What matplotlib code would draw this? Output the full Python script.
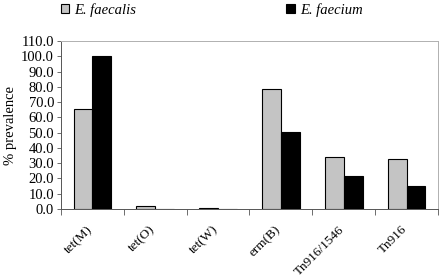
import matplotlib.pyplot as plt
import matplotlib.transforms as mtransforms
import numpy as np

plt.rcParams['font.family'] = ['Liberation Serif', 'DejaVu Serif']

genes = ['tet(M)', 'tet(O)', 'tet(W)', 'erm(B)', 'Tn916/1546', 'Tn916']
faecalis = [65.8, 2.0, 0.6, 78.3, 33.9, 32.6]
faecium = [100.0, 0.0, 0.3, 50.1, 21.8, 15.1]

fig = plt.figure(figsize=(4.43, 2.79), dpi=100)
ax = fig.add_axes([0.1377, 0.2509, 0.851, 0.6021])

x = np.arange(len(genes))
w = 0.3
b1 = ax.bar(x - w / 2, faecalis, w, color='#c4c4c4', edgecolor='black', linewidth=0.8)
b2 = ax.bar(x + w / 2, faecium, w, color='black', edgecolor='black', linewidth=0.8)

ax.set_xlim(-0.5, len(genes) - 0.5)
ax.set_ylim(0, 110)
ax.set_yticks(np.arange(0, 111, 10))
ax.set_yticklabels([f'{v:.1f}' for v in np.arange(0, 111, 10)], fontsize=10.5)
ax.set_xticks(x)
ax.set_xticklabels(genes, rotation=45, ha='right', rotation_mode='anchor', fontsize=9.5)
ax.tick_params(axis='x', length=0, pad=12)
offset = mtransforms.ScaledTranslation(-6 / 100, 2 / 100, fig.dpi_scale_trans)
for lab in ax.get_xticklabels():
    lab.set_transform(lab.get_transform() + offset)
ax.set_xticks(np.arange(-0.5, len(genes)), minor=True)
ax.tick_params(axis='x', which='minor', length=4, direction='out', width=0.6, color='#555555')
ax.tick_params(axis='y', length=3, direction='out', width=0.6, color='#555555', pad=2)
ax.set_ylabel('% prevalence', fontsize=10.5, labelpad=3)

for side in ['top', 'right']:
    ax.spines[side].set_color('#b0b0b0')
    ax.spines[side].set_linewidth(0.7)
for side in ['left', 'bottom']:
    ax.spines[side].set_color('#555555')
    ax.spines[side].set_linewidth(0.7)

leg_kw = dict(loc='upper left', frameon=False, handlelength=0.6, handleheight=0.6,
              handletextpad=0.35, borderpad=0, borderaxespad=0,
              prop={'style': 'italic', 'size': 10.5})
leg1 = ax.legend([b1], ['E. faecalis'], bbox_to_anchor=(0.137, 0.99),
                 bbox_transform=fig.transFigure, **leg_kw)
ax.add_artist(leg1)
ax.legend([b2], ['E. faecium'], bbox_to_anchor=(0.646, 0.99),
          bbox_transform=fig.transFigure, **leg_kw)

fig.savefig('out.png', dpi=100)
